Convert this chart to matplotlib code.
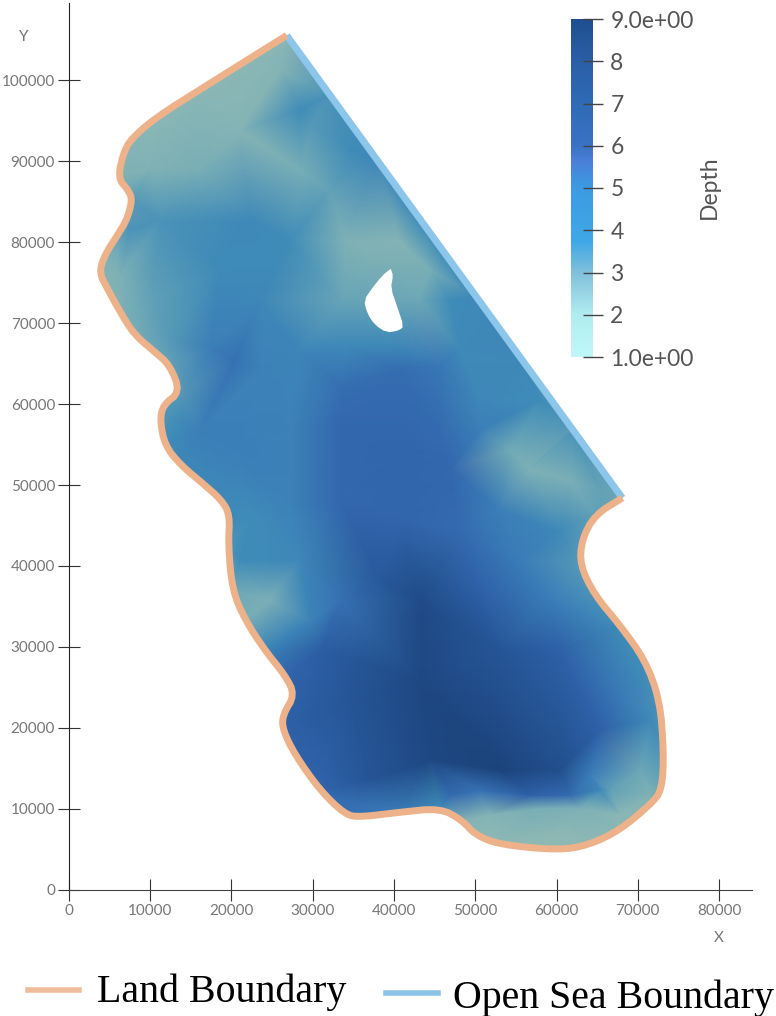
import numpy as np
import matplotlib
matplotlib.use('Agg')
import matplotlib.pyplot as plt
from matplotlib.colors import LinearSegmentedColormap
from matplotlib.lines import Line2D
from matplotlib.patches import PathPatch
from matplotlib.path import Path
from matplotlib.tri import Triangulation

# land boundary, going from the north corner down the west side and back up the east side
land_x = [26800, 22300, 16100, 11200, 8100, 6800, 6000, 7300, 7800, 7100, 6000, 4400, 3700, 4800, 6500, 8100,
          10600, 12400, 13700, 11600, 11200, 11800, 13700, 16700, 18800, 19800, 19600, 20100, 21700, 24100,
          26600, 27800, 26300, 26300, 27800, 30900, 34000, 35800, 40700, 45700, 48400, 50000, 53000, 60400,
          64100, 67800, 71500, 73000, 73200, 72700, 70900, 67800, 64700, 62900, 63100, 64700, 68100]
land_y = [105500, 102700, 98800, 95700, 93200, 91400, 87900, 86400, 85200, 82700, 80900, 78400, 76200, 74100,
          71000, 68500, 66400, 64800, 61500, 59900, 58000, 54900, 52500, 50000, 48100, 46300, 42600, 37000,
          33300, 29600, 26500, 24100, 21600, 19800, 16700, 12300, 9300, 9000, 9600, 10100, 8600, 6800, 5600,
          4900, 5600, 7400, 10500, 12300, 17300, 23500, 28400, 32700, 36400, 40100, 43200, 46300, 48400]
land_depth = [2.4, 2.3, 2.3, 2.3, 2.4, 2.6, 2.8, 3.2, 3.6, 3.6, 3.3, 2.8, 2.6, 2.6, 2.8, 3.0,
              3.2, 3.4, 3.6, 3.6, 3.7, 4.0, 4.2, 4.2, 4.2, 4.2, 3.8, 3.2, 3.0, 4.5,
              6.2, 6.5, 6.5, 6.5, 6.4, 6.2, 5.5, 5.5, 5.0, 4.0, 2.6, 2.3, 2.2, 2.1,
              2.2, 2.3, 2.6, 3.2, 3.8, 3.8, 4.0, 4.0, 3.8, 3.6, 3.6, 3.4, 3.2]

sea_x = [68100, 26800]
sea_y = [48400, 105500]

island_x = [39600, 39900, 39600, 40400, 41200, 40700, 39100, 37600, 36700, 36300, 37300, 38600]
island_y = [76700, 75900, 74300, 72000, 69600, 69100, 68800, 69800, 71200, 72800, 74300, 75900]

# depth read at spots inside the domain
depth_x = [21000, 26000, 28400, 29900, 16100, 10000, 28400, 32100, 34600, 11200, 7500, 22300, 27200, 34000, 37000,
           40700, 44400, 43200, 33400, 18600, 23500, 6300, 10000, 12400, 20400, 17400, 23500, 28400, 34600, 39500,
           46900, 53000, 48100, 55500, 40700, 45700, 33400, 50600, 58000, 61700, 56700, 61700, 54300, 65400, 50600,
           45700, 33400, 40700, 46900, 53000, 60400, 16100, 13700, 21000, 27200, 33400, 27200, 22300, 21000, 24700,
           28400, 29700, 33400, 30900, 38300, 43200, 50600, 40700, 48100, 55500, 59200, 65400, 70300, 67800, 60400,
           53000, 43200, 34600, 28400, 30900, 37000, 44400, 53000, 60400, 65400, 71500, 70300, 66600, 64100, 56700,
           50600, 46900, 35800, 51800, 60400, 67800, 71500,
           32100, 38000, 44000, 50000, 56000, 62000,
           58000, 62900, 61700, 65400]
depth_y = [93800, 101200, 96300, 94400, 88900, 88900, 88900, 86400, 91400, 82700, 81500, 82700, 80200, 80200, 79000,
           80200, 76500, 72800, 72800, 76500, 72800, 75900, 72800, 67900, 65400, 66700, 64200, 66700, 67300, 67300,
           72800, 72800, 66700, 66700, 64200, 64800, 62300, 60500, 60500, 56800, 51900, 50600, 54300, 49400, 56800,
           56800, 56800, 54300, 51900, 46900, 44400, 56800, 58000, 54300, 56800, 48100, 48100, 45700, 40700, 35800,
           40700, 33300, 35800, 29600, 38300, 35800, 37000, 45700, 44400, 40700, 35800, 33300, 25900, 23500, 29600,
           29600, 25900, 23500, 21000, 14800, 13600, 16000, 14800, 14800, 19800, 21000, 14800, 12300, 14200, 11700,
           12300, 11700, 10500, 9300, 6800, 9300, 11700,
           98200, 90000, 81600, 73300, 65000, 56500,
           10100, 10100, 11700, 12300]
depth_val = [2.5, 2.5, 4.0, 3.6, 3.0, 2.7, 3.0, 3.4, 4.0, 3.8, 3.8, 4.2, 4.0, 2.8, 2.7,
             2.6, 3.0, 3.2, 3.3, 4.1, 4.3, 2.8, 3.4, 3.6, 5.5, 4.9, 4.6, 4.4, 4.2, 4.2,
             4.0, 4.2, 4.2, 4.3, 5.7, 5.2, 5.6, 4.3, 4.0, 3.6, 2.8, 2.9, 3.1, 3.4, 4.8,
             5.8, 6.0, 6.2, 6.0, 4.8, 4.2, 4.8, 4.0, 4.8, 4.6, 6.0, 4.6, 4.0, 4.0, 2.9,
             4.3, 4.5, 5.5, 6.8, 7.3, 8.3, 6.5, 6.2, 5.8, 5.0, 5.0, 4.3, 4.2, 5.2, 6.5,
             7.5, 8.5, 7.5, 6.8, 6.5, 7.5, 8.5, 8.8, 8.0, 6.5, 4.2, 3.2, 3.4, 5.0, 6.5,
             5.5, 5.8, 5.5, 2.5, 2.2, 2.3, 2.7,
             3.8, 4.3, 4.0, 4.2, 4.2, 3.8,
             3.0, 2.8, 5.8, 4.2]

x_ticks = [0, 10000, 20000, 30000, 40000, 50000, 60000, 70000, 80000]
y_ticks = [0, 10000, 20000, 30000, 40000, 50000, 60000, 70000, 80000, 90000, 100000]
bar_ticks = [1, 2, 3, 4, 5, 6, 7, 8, 9]
bar_labels = ['1.0e+00', '2', '3', '4', '5', '6', '7', '8', '9.0e+00']

# the surface is shaded so it looks duller than the colour bar, hence two maps
surface_cmap = LinearSegmentedColormap.from_list('surface', [
    (0.0, '#c5e4dc'), (0.125, '#93bab4'), (0.25, '#78aeb6'), (0.375, '#3f8cb8'), (0.5, '#3a7cb8'),
    (0.625, '#3367ae'), (0.75, '#2a5ca2'), (0.875, '#224f8e'), (1.0, '#1b4278')])
bar_cmap = LinearSegmentedColormap.from_list('bar', [
    (0.0, '#c0f8f8'), (0.125, '#b0ecf0'), (0.25, '#80c0dc'), (0.34, '#40a8e6'), (0.5, '#3c9be2'),
    (0.58, '#4a80d8'), (0.625, '#3a72c4'), (0.75, '#2f6bb6'), (0.875, '#2a5fa6'), (1.0, '#1f4f90')])


def round_corners(x, y, passes=2):
    # corner cutting, the real coastline has no sharp kinks
    pts = np.column_stack([x, y]).astype(float)
    for _ in range(passes):
        a = pts[:-1] * 0.75 + pts[1:] * 0.25
        b = pts[:-1] * 0.25 + pts[1:] * 0.75
        mid = np.empty((2 * len(a), 2))
        mid[0::2] = a
        mid[1::2] = b
        pts = np.vstack([pts[:1], mid, pts[-1:]])
    return pts


fig = plt.figure(figsize=(7.76, 10.16), dpi=100)
ax = fig.add_axes([0, 0, 1, 1])
ax.set_xlim(-8492, 87015)
ax.set_ylim(-15556, 109877)

# depth field, clipped to the domain with the island cut out
tri_x = np.array(land_x + depth_x, dtype=float)
tri_y = np.array(land_y + depth_y, dtype=float)
tri_z = np.array(land_depth + depth_val, dtype=float)
tri = Triangulation(tri_x, tri_y)
mesh = ax.tripcolor(tri, tri_z, shading='gouraud', cmap=surface_cmap, vmin=1, vmax=9)

outer = round_corners(land_x, land_y)
hole = round_corners(island_x + island_x[:1], island_y + island_y[:1], passes=1)
verts = np.vstack([outer, outer[:1], hole, hole[:1]])
codes = ([Path.MOVETO] + [Path.LINETO] * (len(outer) - 1) + [Path.CLOSEPOLY]
         + [Path.MOVETO] + [Path.LINETO] * (len(hole) - 1) + [Path.CLOSEPOLY])
clip = PathPatch(Path(verts, codes), transform=ax.transData, facecolor='none', edgecolor='none')
ax.add_patch(clip)
mesh.set_clip_path(clip)

ax.plot(sea_x, sea_y, color='#8cc6ea', lw=5, solid_capstyle='butt', zorder=3)
ax.plot(outer[:, 0], outer[:, 1], color='#edb28a', lw=5, solid_joinstyle='round', solid_capstyle='butt', zorder=4)

# axes cross at the origin
for name in ['top', 'right']:
    ax.spines[name].set_visible(False)
ax.spines['left'].set_position(('data', 0))
ax.spines['bottom'].set_position(('data', 0))
ax.spines['left'].set_bounds(0, 109500)
ax.spines['bottom'].set_bounds(0, 84000)
ax.spines['left'].set_color('#222222')
ax.spines['bottom'].set_color('#444444')
ax.set_xticks(x_ticks)
ax.set_yticks(y_ticks)
ax.tick_params(axis='both', direction='inout', length=16, width=0.8, color='#333333', labelcolor='#777777',
               labelsize=11, pad=2)
for lab in ax.get_xticklabels() + ax.get_yticklabels():
    lab.set_family('Lato')
ax.text(80000, -5900, 'X', color='#777777', fontsize=11, family='Lato', ha='center', va='center')
ax.text(-5600, 105300, 'Y', color='#777777', fontsize=11, family='Lato', ha='center', va='center')

# colour bar
cax = fig.add_axes([571 / 776, 1 - 357 / 1016, 22 / 776, 338 / 1016])
cax.imshow(np.linspace(9, 1, 256).reshape(-1, 1), aspect='auto', cmap=bar_cmap, vmin=1, vmax=9, extent=[0, 1, 1, 9])
for name in cax.spines:
    cax.spines[name].set_visible(False)
cax.set_xticks([])
cax.yaxis.tick_right()
cax.set_yticks(bar_ticks)
cax.set_yticklabels(bar_labels, family='Lato', fontsize=16.5, color='#555555')
cax.tick_params(axis='y', direction='inout', length=15, width=1, color='#444444', pad=5)
fig.text(709 / 776, 1 - 187 / 1016, 'Depth', rotation=90, family='Lato', fontsize=16.5, color='#555555',
         ha='center', va='center')

# legend underneath
fig.add_artist(Line2D([28 / 776, 79 / 776], [1 - 990 / 1016] * 2, color='#efbd9c', lw=4))
fig.add_artist(Line2D([386 / 776, 438 / 776], [1 - 993 / 1016] * 2, color='#8cc4e8', lw=4))
fig.text(97 / 776, 1 - 992 / 1016, 'Land Boundary', family='Liberation Serif', fontsize=28.7, color='black', va='center')
fig.text(453 / 776, 1 - 998 / 1016, 'Open Sea Boundary', family='Liberation Serif', fontsize=28.7, color='black', va='center')

fig.savefig('out.png', dpi=100)
